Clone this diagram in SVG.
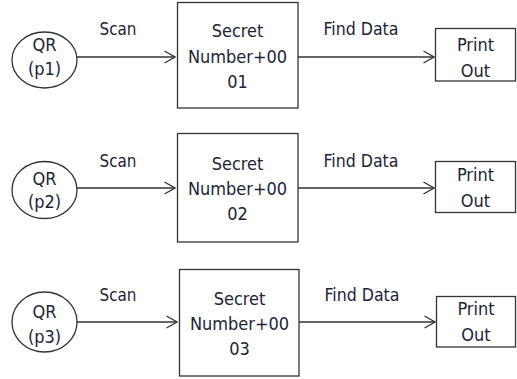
<svg xmlns="http://www.w3.org/2000/svg" width="517" height="379" viewBox="0 0 517 379">
  <style>
    .shape { fill: #ffffff; stroke: #333333; stroke-width: 1.3; }
    .edge { fill: none; stroke: #333333; stroke-width: 1.3; }
    text { font-family: "DejaVu Sans Condensed", "DejaVu Sans", "Liberation Sans", sans-serif; font-stretch: condensed; font-size: 18px; fill: #1c2436; text-anchor: middle; }
  </style>
  <defs>
    <marker id="chevron" viewBox="0 0 12 14" refX="11.5" refY="7" markerWidth="12" markerHeight="14" markerUnits="userSpaceOnUse" orient="auto">
      <path d="M1,1 L11.5,7 L1,13" fill="none" stroke="#333333" stroke-width="1.3"/>
    </marker>
  </defs>
  <rect width="517" height="379" fill="#ffffff"/>

  <!-- connectors with their labels -->
  <g id="connectors">
    <line class="edge" x1="77" y1="57" x2="175" y2="57" marker-end="url(#chevron)"/>
    <line class="edge" x1="298" y1="57" x2="434" y2="57" marker-end="url(#chevron)"/>
    <text x="118" y="35" textLength="37" lengthAdjust="spacingAndGlyphs">Scan</text>
    <text x="361" y="35" textLength="75" lengthAdjust="spacingAndGlyphs">Find Data</text>

    <line class="edge" x1="77" y1="188" x2="175" y2="188" marker-end="url(#chevron)"/>
    <line class="edge" x1="298" y1="188" x2="434" y2="188" marker-end="url(#chevron)"/>
    <text x="118" y="167" textLength="37" lengthAdjust="spacingAndGlyphs">Scan</text>
    <text x="361" y="167" textLength="75" lengthAdjust="spacingAndGlyphs">Find Data</text>

    <line class="edge" x1="77" y1="322" x2="177" y2="322" marker-end="url(#chevron)"/>
    <line class="edge" x1="299" y1="322" x2="435" y2="322" marker-end="url(#chevron)"/>
    <text x="118" y="301" textLength="37" lengthAdjust="spacingAndGlyphs">Scan</text>
    <text x="362" y="301" textLength="75" lengthAdjust="spacingAndGlyphs">Find Data</text>
  </g>

  <!-- row 1 -->
  <g id="qr-p1">
    <ellipse class="shape" cx="44.5" cy="60" rx="32.5" ry="28"/>
    <text x="44.5" y="51">QR</text>
    <text x="44.5" y="75">(p1)</text>
  </g>
  <g id="secret-01">
    <rect class="shape" x="177.5" y="2.5" width="120.5" height="105.5"/>
    <text x="237.5" y="37">Secret</text>
    <text x="237.5" y="63">Number+00</text>
    <text x="237.5" y="88">01</text>
  </g>
  <g id="print-01">
    <rect class="shape" x="435.5" y="28.5" width="80" height="52.5"/>
    <text x="475.5" y="51">Print</text>
    <text x="475.5" y="77">Out</text>
  </g>

  <!-- row 2 -->
  <g id="qr-p2">
    <ellipse class="shape" cx="44.5" cy="190" rx="32.5" ry="28.5"/>
    <text x="44.5" y="185">QR</text>
    <text x="44.5" y="208">(p2)</text>
  </g>
  <g id="secret-02">
    <rect class="shape" x="177.5" y="133.5" width="120.5" height="108.5"/>
    <text x="237.5" y="170">Secret</text>
    <text x="237.5" y="195">Number+00</text>
    <text x="237.5" y="220">02</text>
  </g>
  <g id="print-02">
    <rect class="shape" x="435.5" y="161.5" width="80" height="51"/>
    <text x="475.5" y="181">Print</text>
    <text x="475.5" y="207">Out</text>
  </g>

  <!-- row 3 -->
  <g id="qr-p3">
    <ellipse class="shape" cx="44.5" cy="322" rx="32.5" ry="30"/>
    <text x="44.5" y="318">QR</text>
    <text x="44.5" y="343">(p3)</text>
  </g>
  <g id="secret-03">
    <rect class="shape" x="179.5" y="269.5" width="119.5" height="106.5"/>
    <text x="239.5" y="305">Secret</text>
    <text x="239.5" y="330">Number+00</text>
    <text x="239.5" y="355">03</text>
  </g>
  <g id="print-03">
    <rect class="shape" x="436.5" y="296.5" width="79" height="50.5"/>
    <text x="476" y="315">Print</text>
    <text x="476" y="341">Out</text>
  </g>
</svg>
